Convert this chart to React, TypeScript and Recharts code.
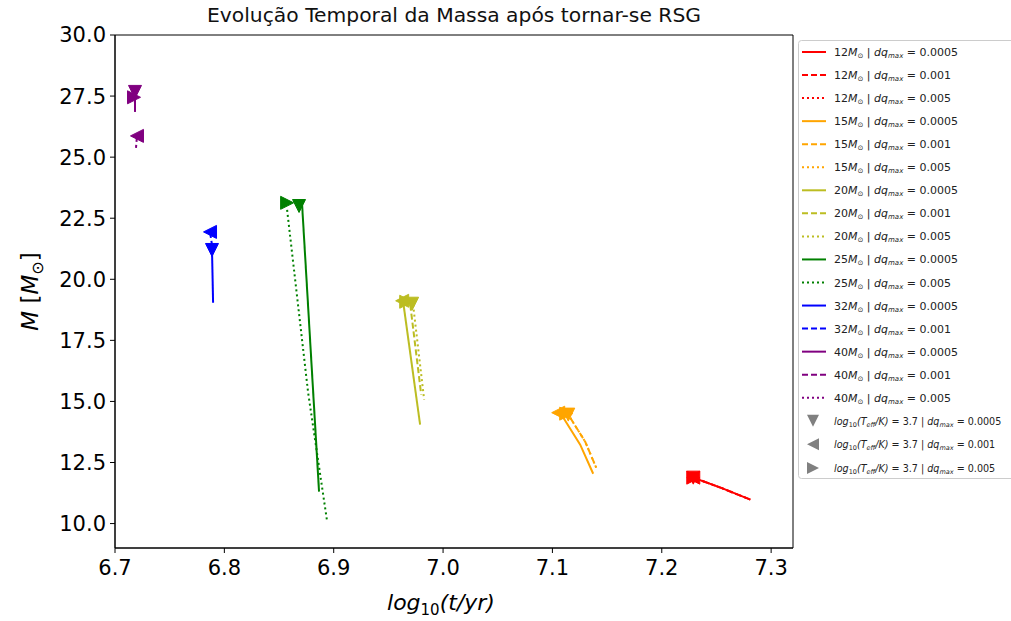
import React from 'react';
import { ComposedChart, Line, Scatter, XAxis, YAxis, ReferenceArea } from 'recharts';

const FONT = '"DejaVu Sans", sans-serif';

const RED = '#ff0000';
const ORANGE = '#ffa500';
const OLIVE = '#bcbd22';
const GREEN = '#008000';
const BLUE = '#0000ff';
const PURPLE = '#800080';

const X_TICKS = [6.7, 6.8, 6.9, 7.0, 7.1, 7.2, 7.3];
const Y_TICKS = [10, 12.5, 15, 17.5, 20, 22.5, 25, 27.5, 30];

// mass tracks (log10 t, M) per initial mass and dq_max
const m12a = [{ x: 7.2288, y: 11.88 }, { x: 7.255, y: 11.45 }, { x: 7.281, y: 10.98 }];
const m12b = [{ x: 7.2288, y: 11.88 }, { x: 7.255, y: 11.45 }, { x: 7.281, y: 10.98 }];
const m12c = [{ x: 7.2288, y: 11.88 }, { x: 7.255, y: 11.45 }, { x: 7.281, y: 10.98 }];

const m15a = [{ x: 7.11, y: 14.33 }, { x: 7.1254, y: 13.23 }, { x: 7.1373, y: 12.04 }];
const m15b = [{ x: 7.1163, y: 14.33 }, { x: 7.13, y: 13.35 }, { x: 7.14, y: 12.29 }];
const m15c = [{ x: 7.1163, y: 14.33 }, { x: 7.13, y: 13.35 }, { x: 7.14, y: 12.29 }];

const m20a = [{ x: 6.9635, y: 19.08 }, { x: 6.979, y: 14.05 }];
const m20b = [{ x: 6.97, y: 18.96 }, { x: 6.98, y: 15.28 }];
const m20c = [{ x: 6.9726, y: 18.96 }, { x: 6.9827, y: 15.07 }];

const m25a = [{ x: 6.8711, y: 23.05 }, { x: 6.8866, y: 11.31 }];
const m25c = [{ x: 6.8574, y: 22.84 }, { x: 6.8766, y: 15.36 }, { x: 6.894, y: 10.08 }];

const m32a = [{ x: 6.7887, y: 21.21 }, { x: 6.7897, y: 19.04 }];
const m32b = [{ x: 6.7869, y: 21.94 }, { x: 6.7887, y: 21.41 }];

const m40a = [{ x: 6.7183, y: 27.67 }, { x: 6.7183, y: 26.85 }];
const m40b = [{ x: 6.7201, y: 25.87 }, { x: 6.7192, y: 25.38 }];
const m40c = [{ x: 6.7178, y: 27.5 }, { x: 6.7183, y: 27.2 }];

// points where log10(Teff/K) = 3.7
const mk12a = [{ x: 7.2288, y: 11.88 }];
const mk12b = [{ x: 7.2288, y: 11.88 }];
const mk12c = [{ x: 7.2288, y: 11.88 }];
const mk15a = [{ x: 7.1145, y: 14.46 }];
const mk15b = [{ x: 7.1053, y: 14.54 }];
const mk15c = [{ x: 7.1126, y: 14.5 }];
const mk20a = [{ x: 6.9717, y: 19.0 }];
const mk20b = [{ x: 6.9626, y: 19.12 }];
const mk20c = [{ x: 6.9663, y: 19.08 }];
const mk25a = [{ x: 6.8683, y: 23.0 }];
const mk25c = [{ x: 6.8574, y: 23.13 }];
const mk32a = [{ x: 6.7887, y: 21.2 }];
const mk32b = [{ x: 6.7869, y: 21.94 }];
const mk40a = [{ x: 6.7183, y: 27.67 }];
const mk40b = [{ x: 6.7201, y: 25.87 }];
const mk40c = [{ x: 6.7174, y: 27.45 }];

const DASH: Record<string, string | undefined> = { a: undefined, b: '6 3', c: '2 3' };
const DQ: Record<string, string> = { a: '0.0005', b: '0.001', c: '0.005' };

const lines = [
  { mass: 12, color: RED, kind: 'a', data: m12a },
  { mass: 12, color: RED, kind: 'b', data: m12b },
  { mass: 12, color: RED, kind: 'c', data: m12c },
  { mass: 15, color: ORANGE, kind: 'a', data: m15a },
  { mass: 15, color: ORANGE, kind: 'b', data: m15b },
  { mass: 15, color: ORANGE, kind: 'c', data: m15c },
  { mass: 20, color: OLIVE, kind: 'a', data: m20a },
  { mass: 20, color: OLIVE, kind: 'b', data: m20b },
  { mass: 20, color: OLIVE, kind: 'c', data: m20c },
  { mass: 25, color: GREEN, kind: 'a', data: m25a },
  { mass: 25, color: GREEN, kind: 'c', data: m25c },
  { mass: 32, color: BLUE, kind: 'a', data: m32a },
  { mass: 32, color: BLUE, kind: 'b', data: m32b },
  { mass: 40, color: PURPLE, kind: 'a', data: m40a },
  { mass: 40, color: PURPLE, kind: 'b', data: m40b },
  { mass: 40, color: PURPLE, kind: 'c', data: m40c },
];

const markers = [
  { color: RED, kind: 'a', data: mk12a },
  { color: RED, kind: 'b', data: mk12b },
  { color: RED, kind: 'c', data: mk12c },
  { color: ORANGE, kind: 'a', data: mk15a },
  { color: ORANGE, kind: 'b', data: mk15b },
  { color: ORANGE, kind: 'c', data: mk15c },
  { color: OLIVE, kind: 'a', data: mk20a },
  { color: OLIVE, kind: 'b', data: mk20b },
  { color: OLIVE, kind: 'c', data: mk20c },
  { color: GREEN, kind: 'a', data: mk25a },
  { color: GREEN, kind: 'c', data: mk25c },
  { color: BLUE, kind: 'a', data: mk32a },
  { color: BLUE, kind: 'b', data: mk32b },
  { color: PURPLE, kind: 'a', data: mk40a },
  { color: PURPLE, kind: 'b', data: mk40b },
  { color: PURPLE, kind: 'c', data: mk40c },
];

function triPoints(kind: string, cx: number, cy: number, s: number) {
  if (kind === 'a') return `${cx - s},${cy - s} ${cx + s},${cy - s} ${cx},${cy + s}`;
  if (kind === 'b') return `${cx + s},${cy - s} ${cx + s},${cy + s} ${cx - s},${cy}`;
  return `${cx - s},${cy - s} ${cx - s},${cy + s} ${cx + s},${cy}`;
}

const triShape = (kind: string, color: string) => (props: any) => (
  <polygon points={triPoints(kind, props.cx, props.cy, 6.5)} fill={color} stroke={color} strokeWidth={1} />
);

function XLabel(props: any) {
  const { viewBox } = props;
  const cx = viewBox.x + viewBox.width / 2 - 13;
  return (
    <text x={cx} y={610} textAnchor="middle" fontFamily={FONT} fontSize={22} fill="#000">
      <tspan fontStyle="italic">log</tspan>
      <tspan fontSize={15} dy={5}>10</tspan>
      <tspan fontStyle="italic" dy={-5}>(t/yr)</tspan>
    </text>
  );
}

function YLabel(props: any) {
  const { viewBox } = props;
  const cy = viewBox.y + viewBox.height / 2;
  return (
    <text x={0} y={0} transform={`translate(38, ${cy}) rotate(-90)`} textAnchor="middle" fontFamily={FONT} fontSize={23} fill="#000">
      <tspan fontStyle="italic">M</tspan>
      <tspan> [</tspan>
      <tspan fontStyle="italic">M</tspan>
      <tspan fontSize={16} dy={5}>⊙</tspan>
      <tspan dy={-5}>]</tspan>
    </text>
  );
}

function LegendBox() {
  const rowY = (i: number) => 52 + 23.05 * i;
  return (
    <svg width={1011} height={621} style={{ position: 'absolute', left: 0, top: 0, pointerEvents: 'none' }}>
      <rect x={798.5} y={40.5} width={240} height={438} rx={3} fill="#fff" fillOpacity={0.8} stroke="#cccccc" />
      {lines.map((l, i) => (
        <g key={i}>
          <line x1={802} x2={826} y1={rowY(i)} y2={rowY(i)} stroke={l.color} strokeWidth={2} strokeDasharray={DASH[l.kind]} />
          <text x={834} y={rowY(i) + 4} fontFamily={FONT} fontSize={11} fill="#222">
            <tspan>{l.mass}</tspan>
            <tspan fontStyle="italic">M</tspan>
            <tspan fontSize={7} dy={2}>⊙</tspan>
            <tspan dy={-2}> | </tspan>
            <tspan fontStyle="italic">dq</tspan>
            <tspan fontSize={7} fontStyle="italic" dy={2}>max</tspan>
            <tspan dy={-2}> = {DQ[l.kind]}</tspan>
          </text>
        </g>
      ))}
      {['a', 'b', 'c'].map((k, j) => {
        const y = rowY(16 + j) + 0.5 * j;
        return (
          <g key={k}>
            <polygon points={triPoints(k, 813, y, 6)} fill="#808080" />
            <text x={834} y={y + 4} fontFamily={FONT} fontSize={9.6} fill="#222">
              <tspan fontStyle="italic">log</tspan>
              <tspan fontSize={6.5} dy={2}>10</tspan>
              <tspan fontStyle="italic" dy={-2}>(T</tspan>
              <tspan fontSize={6.5} fontStyle="italic" dy={2}>eff</tspan>
              <tspan fontStyle="italic" dy={-2}>/K)</tspan>
              <tspan> = 3.7 | </tspan>
              <tspan fontStyle="italic">dq</tspan>
              <tspan fontSize={6.5} fontStyle="italic" dy={2}>max</tspan>
              <tspan dy={-2}> = {DQ[k]}</tspan>
            </text>
          </g>
        );
      })}
    </svg>
  );
}

export default function App() {
  return (
    <div style={{ position: 'absolute', left: 0, top: 0, width: 1011, height: 621, overflow: 'hidden', background: '#fff', fontFamily: FONT }}>
      <div style={{ position: 'absolute', left: 115, width: 678, top: 3, textAlign: 'center', fontSize: 20.3, color: '#111', whiteSpace: 'nowrap' }}>
        Evolução Temporal da Massa após tornar-se RSG
      </div>
      <ComposedChart width={1011} height={621} margin={{ top: 35, right: 218, bottom: 0, left: 0 }} style={{ position: 'absolute', left: 0, top: 0 }}>
        <XAxis
          type="number"
          dataKey="x"
          domain={[6.7, 7.32]}
          ticks={X_TICKS}
          allowDataOverflow
          height={73}
          tickSize={5}
          tickMargin={7}
          tickFormatter={(v: number) => v.toFixed(1)}
          tick={{ fontFamily: FONT, fontSize: 21, fill: '#000' }}
          stroke="#000"
          label={<XLabel />}
        />
        <YAxis
          type="number"
          dataKey="y"
          domain={[9.0, 30]}
          ticks={Y_TICKS}
          allowDataOverflow
          width={115}
          tickSize={5}
          tickMargin={4}
          tickFormatter={(v: number) => v.toFixed(1)}
          tick={{ fontFamily: FONT, fontSize: 21, fill: '#000' }}
          stroke="#000"
          label={<YLabel />}
        />
        <ReferenceArea x1={6.7} x2={7.32} y1={9.0} y2={30} fill="none" stroke="#000" strokeWidth={1} ifOverflow="visible" />
        {lines.map((l, i) => (
          <Line
            key={'l' + i}
            data={l.data}
            dataKey="y"
            type="linear"
            stroke={l.color}
            strokeWidth={2}
            strokeDasharray={DASH[l.kind]}
            dot={false}
            activeDot={false}
            isAnimationActive={false}
          />
        ))}
        {markers.map((m, i) => (
          <Scatter key={'m' + i} data={m.data} dataKey="y" fill={m.color} shape={triShape(m.kind, m.color)} isAnimationActive={false} />
        ))}
      </ComposedChart>
      <LegendBox />
    </div>
  );
}
